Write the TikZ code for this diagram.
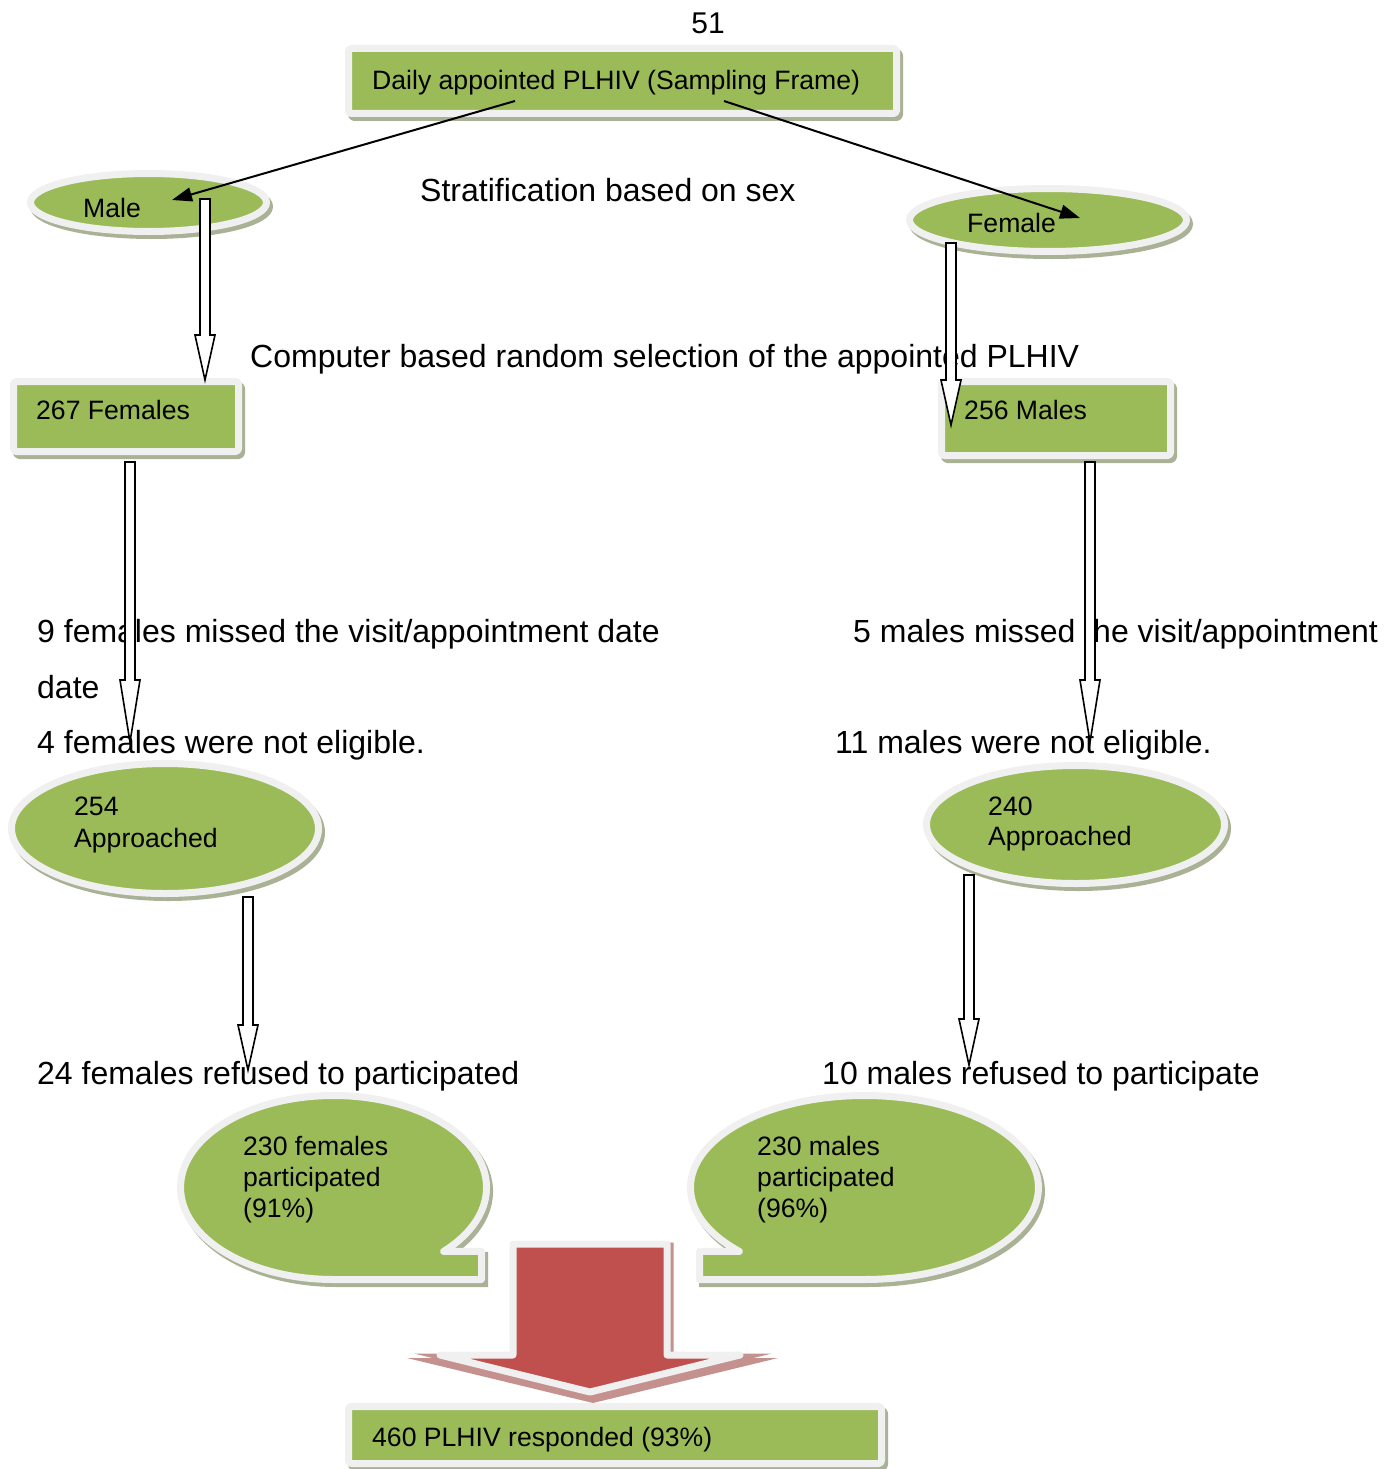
\documentclass[tikz,border=0pt]{standalone}
\usepackage{fontspec}
\setmainfont{Liberation Sans}
\usetikzlibrary{shapes.geometric,arrows.meta,calc,shadows}
\definecolor{gfill}{HTML}{9BBB59}
\definecolor{gbord}{HTML}{F0F0F0}
\definecolor{gshad}{HTML}{A9B295}
\definecolor{rfill}{HTML}{C0504D}
\definecolor{rshad}{HTML}{C4918F}
\tikzset{
 greenshape/.style={fill=gfill, draw=gbord, line width=7pt, line join=round,
   general shadow={draw=gshad, fill=gshad, line width=7pt, shadow xshift=3pt, shadow yshift=-4pt}},
 boxnode/.style={greenshape, rectangle, rounded corners=3pt, inner sep=0pt},
 ellnode/.style={greenshape, ellipse, inner sep=0pt},
 bigtxt/.style={font=\fontsize{32}{38}\selectfont, inner sep=0pt, anchor=base west},
 smalltxt/.style={font=\fontsize{26.6}{31}\selectfont, inner sep=0pt, anchor=base west},
 hollow/.style={draw=black, fill=white, line width=1.6pt, line join=miter},
 thinarrow/.style={draw=black, line width=2pt, -{Triangle[length=20pt,width=14pt]}},
 redarrow/.style={fill=rfill, draw=gbord, line width=7pt, line join=round,
   general shadow={draw=rshad, fill=rshad, line width=7pt, shadow xshift=3pt, shadow yshift=-2pt}},
}
\newcommand{\harrow}[3]{%
 \draw[hollow] ($(#1)+(-5,0)$) -- ($(#1)+(5,0)$) -- ($(#2)+(5,#3)$) -- ($(#2)+(10,#3)$) -- (#2)
   -- ($(#2)+(-10,#3)$) -- ($(#2)+(-5,#3)$) -- cycle;}
\begin{document}
\begin{tikzpicture}[x=1pt,y=1pt]
\useasboundingbox (0,0) rectangle (1386,-1469);
% shapes
\node[boxnode, minimum width=548pt, minimum height=65pt] (top) at (622.5,-81) {};
\node[ellnode, minimum width=236pt, minimum height=58pt] (male) at (148.5,-202.5) {};
\node[ellnode, minimum width=277pt, minimum height=63pt] (female) at (1048,-220) {};
\node[boxnode, minimum width=225pt, minimum height=70pt] (fem267) at (126,-416.5) {};
\node[boxnode, minimum width=229pt, minimum height=74pt] (mal256) at (1056,-418.5) {};
\node[ellnode, minimum width=307pt, minimum height=130pt] (app254) at (165,-828.5) {};
\node[ellnode, minimum width=298pt, minimum height=118pt] (app240) at (1075.5,-824.5) {};
% speech bubbles
\draw[greenshape] (443.6,-1251.4) arc[start angle=-44, end angle=270, x radius=153pt, y radius=92pt]
  -- (481.5,-1279.5) -- (481.5,-1251.4) -- cycle;
\coordinate (fbub) at (333.5,-1187.5);
\draw[greenshape] (699.5,-1251.4) -- (739.3,-1251.4) arc[start angle=224, end angle=-90, x radius=174pt, y radius=92pt]
  -- (699.5,-1279.5) -- cycle;
\coordinate (mbub) at (864.5,-1187.5);
% red arrow
\fill[rshad] (407,-1358) -- (778,-1358) -- (593,-1403) -- cycle;
\draw[redarrow] (513,-1244) -- (667,-1244) -- (667,-1355) -- (740,-1355) -- (590,-1392)
  -- (440,-1355) -- (513,-1355) -- cycle;
\node[boxnode, minimum width=533pt, minimum height=57pt] (total) at (615,-1435) {};
% texts
\node[font=\fontsize{30}{36}\selectfont, inner sep=0pt, anchor=base] (pg) at (708,-34) {51};
\node[smalltxt] (ttop) at (372,-90) {Daily appointed PLHIV (Sampling Frame)};
\node[smalltxt] (tmale) at (83,-217) {Male};
\node[smalltxt] (tfemale) at (967,-232) {Female};
\node[bigtxt] (strat) at (420,-201) {Stratification based on sex};
\node[bigtxt] (comp) at (250,-367) {Computer based random selection of the appointed PLHIV};
\node[smalltxt] (t267) at (36,-419) {267 Females};
\node[smalltxt] (t256) at (964,-419) {256 Males};
\node[bigtxt] (fmiss) at (37,-642) {9 females missed the visit/appointment date};
\node[bigtxt] (fdate) at (37,-698) {date};
\node[bigtxt] (fnot) at (37,-753) {4 females were not eligible.};
\node[bigtxt] (mmiss) at (853,-642) {5 males missed the visit/appointment};
\node[bigtxt] (mnot) at (835,-753) {11 males were not eligible.};
\node[smalltxt] (t254a) at (74,-815) {254};
\node[smalltxt] (t254b) at (74,-847) {Approached};
\node[smalltxt] (t240a) at (988,-815) {240};
\node[smalltxt] (t240b) at (988,-845) {Approached};
\node[bigtxt] (fref) at (37,-1084) {24 females refused to participated};
\node[bigtxt] (mref) at (822,-1084) {10 males refused to participate};
\node[smalltxt] (fb1) at (243,-1155) {230 females};
\node[smalltxt] (fb2) at (243,-1186) {participated};
\node[smalltxt] (fb3) at (243,-1217) {(91\%)};
\node[smalltxt] (mb1) at (757,-1155) {230 males};
\node[smalltxt] (mb2) at (757,-1186) {participated};
\node[smalltxt] (mb3) at (757,-1217) {(96\%)};
\node[smalltxt] (ttot) at (372,-1446) {460 PLHIV responded (93\%)};
% thin arrows
\coordinate (tl) at (515,-101);
\coordinate (tr) at (724,-101);
\coordinate (ml) at (172,-200);
\coordinate (fr) at (1080,-218);
\draw[thinarrow] (tl) -- (ml);
\draw[thinarrow] (tr) -- (fr);
% hollow arrows
\coordinate (a1s) at (205,-199); \coordinate (a1e) at (205,-380);
\coordinate (a2s) at (951,-243); \coordinate (a2e) at (951,-425);
\coordinate (a3s) at (130,-462); \coordinate (a3e) at (130,-742);
\coordinate (a4s) at (1090,-462); \coordinate (a4e) at (1090,-742);
\coordinate (a5s) at (248,-897); \coordinate (a5e) at (248,-1070);
\coordinate (a6s) at (969,-875); \coordinate (a6e) at (969,-1065);
\harrow{a1s}{a1e}{45}
\harrow{a2s}{a2e}{45}
\harrow{a3s}{a3e}{62}
\harrow{a4s}{a4e}{62}
\harrow{a5s}{a5e}{45}
\harrow{a6s}{a6e}{46}
\end{tikzpicture}
\end{document}
